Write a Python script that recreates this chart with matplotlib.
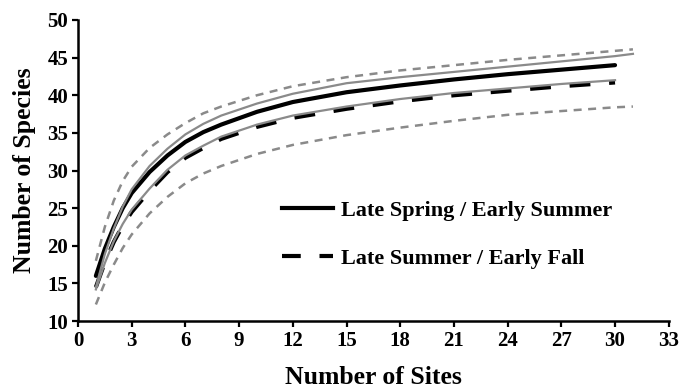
import matplotlib
matplotlib.use('Agg')
import matplotlib.pyplot as plt
from matplotlib.lines import Line2D

plt.rcParams['font.family'] = ['Liberation Serif', 'DejaVu Serif']
plt.rcParams['font.weight'] = 'bold'

# ── 数据 ─────────────────────────────────────────────
sites = [1, 1.5, 2, 2.5, 3, 4, 5, 6, 7, 8, 10, 12, 15, 18, 21, 24, 27, 30]
sites_ext = sites + [31]

spring_obs = [16.0, 19.6, 22.5, 25.0, 27.0, 29.8, 32.0, 33.8, 35.1, 36.1,
              37.8, 39.1, 40.4, 41.3, 42.1, 42.8, 43.4, 44.0]
summer_obs = [14.5, 17.8, 20.5, 22.7, 24.5, 27.3, 29.8, 31.7, 33.0, 34.2,
              35.8, 37.0, 38.2, 39.2, 40.0, 40.6, 41.2, 41.7]

# 灰色实线（估计曲线）
spring_est = [14.5, 18.9, 22.3, 25.2, 27.5, 30.6, 32.9, 34.8, 36.2, 37.3,
              38.9, 40.2, 41.6, 42.4, 43.1, 43.8, 44.5, 45.2, 45.5]
summer_est = [14.2, 17.7, 20.6, 22.9, 24.8, 27.6, 30.1, 32.0, 33.3, 34.5,
              36.1, 37.3, 38.5, 39.5, 40.3, 40.9, 41.5, 42.0]

# 灰色虚线（置信区间）
ci_upper = [18.0, 22.5, 26.0, 28.6, 30.5, 33.0, 34.8, 36.3, 37.6, 38.5,
            40.0, 41.2, 42.4, 43.3, 44.0, 44.7, 45.3, 45.9, 46.1]
ci_lower = [12.2, 15.1, 17.5, 19.7, 21.5, 24.3, 26.5, 28.3, 29.6, 30.6,
            32.2, 33.4, 34.7, 35.7, 36.6, 37.4, 37.9, 38.4, 38.5]

labels = ['Late Spring / Early Summer', 'Late Summer / Early Fall']
x_ticks = list(range(0, 34, 3))
y_ticks = list(range(10, 51, 5))

GRAY = '#8a8a8a'

fig = plt.figure(figsize=(6.81, 3.92), dpi=100)
ax = fig.add_axes([0.1145, 0.181, 0.8675, 0.768])

ax.plot(sites_ext, ci_upper, color=GRAY, lw=1.8, dashes=(3.2, 2.6))
ax.plot(sites_ext, ci_lower, color=GRAY, lw=1.8, dashes=(3.2, 2.6))
ax.plot(sites, summer_obs, color='black', lw=3.0, dashes=(5, 4.5),
        dash_capstyle='butt')
ax.plot(sites, spring_obs, color='black', lw=3.0, solid_capstyle='round')
ax.plot(sites_ext, spring_est, color=GRAY, lw=1.6)
ax.plot(sites, summer_est, color=GRAY, lw=1.6)

ax.set_xlim(0, 33)
ax.set_ylim(10, 50)
ax.set_xticks(x_ticks)
ax.set_yticks(y_ticks)
ax.tick_params(direction='out', length=4, width=1.6, labelsize=15, pad=3)
for lab in ax.get_xticklabels() + ax.get_yticklabels():
    lab.set_fontweight('bold')

for side in ['top', 'right']:
    ax.spines[side].set_visible(False)
for side in ['left', 'bottom']:
    ax.spines[side].set_linewidth(1.8)

ax.set_xlabel('Number of Sites', fontsize=18.5, fontweight='bold', labelpad=11)
ax.set_ylabel('Number of Species', fontsize=18.5, fontweight='bold', labelpad=8)

handles = [
    Line2D([], [], color='black', lw=3.0),
    Line2D([], [], color='black', lw=3.0, dashes=(4.5, 4.5)),
]
leg = ax.legend(handles, labels, loc='center left',
                bbox_to_anchor=(0.345, 0.287), frameon=False,
                borderpad=0, borderaxespad=0, handlelength=2.3,
                handletextpad=0.35, labelspacing=1.25,
                prop={'size': 16, 'weight': 'bold'})

fig.savefig('out.png', dpi=100)
